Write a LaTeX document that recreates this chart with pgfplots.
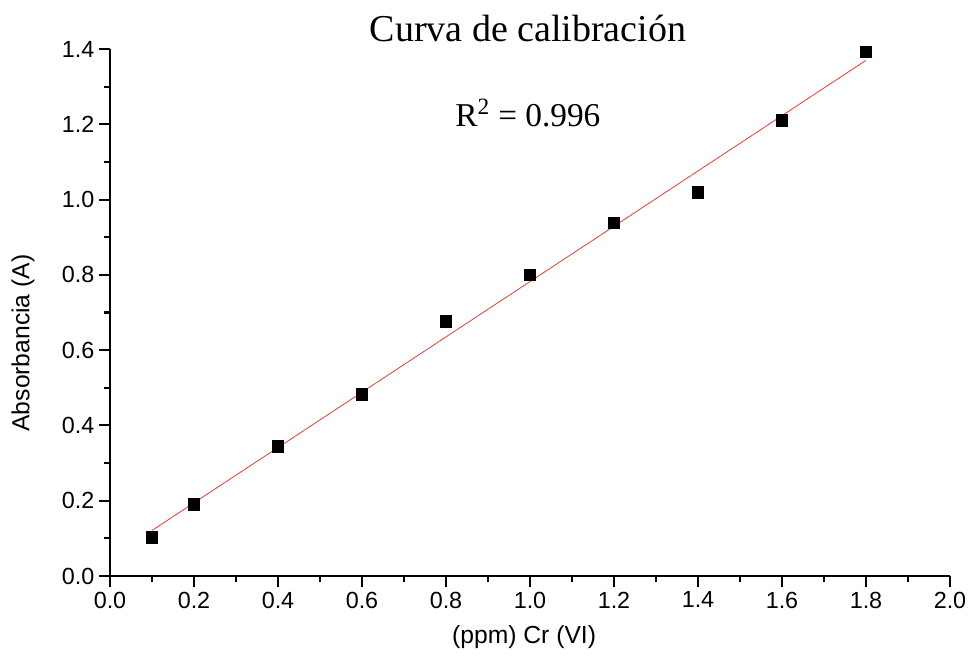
\documentclass[border=0pt]{standalone}
\usepackage{pgfplots}
\pgfplotsset{compat=1.18}
\usepackage{fontspec}
\setmainfont{Liberation Serif}
\newfontfamily\arial{Liberation Sans}

\begin{document}
\begin{tikzpicture}
\begin{axis}[
  scale only axis, width=630pt, height=395.25pt,
  xmin=0, xmax=2, ymin=0, ymax=1.4,
  axis lines=left,
  axis line style={-, line width=1.6pt, black},
  xtick distance=0.2, ytick distance=0.2, minor tick num=1,
  tick align=outside, major tick length=8.25pt, minor tick length=4.5pt,
  tick style={black, line width=1.6pt},
  major tick style={line width=1.6pt}, minor tick style={line width=1.6pt},
  tick label style={font=\fontsize{17.5}{21}\arial},
  /pgf/number format/assume math mode=true,
  /pgf/number format/fixed, /pgf/number format/fixed zerofill,
  /pgf/number format/precision=1,
  xlabel={(ppm) Cr (VI)}, ylabel={Absorbancia (A)},
  label style={font=\fontsize{18.5}{22}\arial},
  xlabel style={at={(axis description cs:0.493,-0.1157)}, anchor=center},
  ylabel style={at={(axis description cs:-0.1036,0.442)}, anchor=center},
  clip=false,
]
\addplot[red!85, line width=0.55pt] coordinates {(0.1,0.121) (1.8,1.370)};
\addplot[only marks, mark=square*, mark size=4.3pt, black] coordinates {
  (0.1,0.103) (0.2,0.191) (0.4,0.345) (0.6,0.483) (0.8,0.677)
  (1.0,0.800) (1.2,0.938) (1.4,1.020) (1.6,1.211) (1.8,1.392)
};
\node[anchor=base, font=\fontsize{28.5}{34}\selectfont]
  at ([yshift=5.25pt]rel axis cs:0.4976,1) {Curva de calibración};
\node[anchor=base, font=\fontsize{25}{30}\selectfont]
  at (axis cs:0.995,1.193) {R\textsuperscript{2} = 0.996};
\end{axis}
\pgfresetboundingbox
\path[use as bounding box] ([xshift=-82.5pt,yshift=-61.5pt]current axis.south west)
  rectangle ([xshift=15.75pt,yshift=36.75pt]current axis.north east);
\end{tikzpicture}
\end{document}
